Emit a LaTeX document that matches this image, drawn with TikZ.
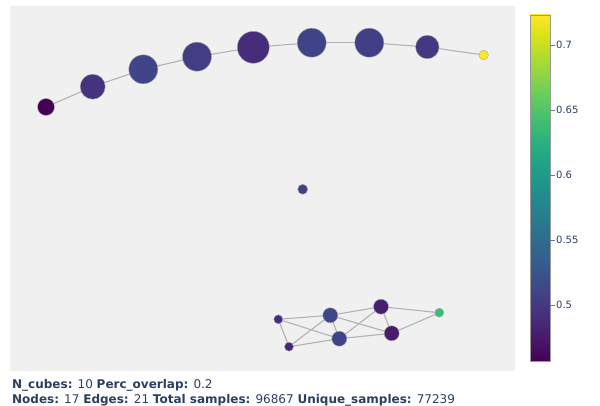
\documentclass[tikz,border=0pt]{standalone}
\usepackage{fontspec}
\setmainfont{DejaVu Sans}
\usetikzlibrary{backgrounds}
\definecolor{plotbg}{HTML}{F0F0F0}
\definecolor{edgec}{HTML}{B2B2B2}
\definecolor{txt}{HTML}{2A3F5F}
\definecolor{v0}{HTML}{440154}
\definecolor{v1}{HTML}{48186A}
\definecolor{v2}{HTML}{472D7B}
\definecolor{v3}{HTML}{424086}
\definecolor{v4}{HTML}{3B528B}
\definecolor{v5}{HTML}{33638D}
\definecolor{v6}{HTML}{2C728E}
\definecolor{v7}{HTML}{26828E}
\definecolor{v8}{HTML}{21918C}
\definecolor{v9}{HTML}{1FA088}
\definecolor{v10}{HTML}{28AE80}
\definecolor{v11}{HTML}{3FBC73}
\definecolor{v12}{HTML}{5EC962}
\definecolor{v13}{HTML}{84D44B}
\definecolor{v14}{HTML}{ADDC30}
\definecolor{v15}{HTML}{D8E219}
\definecolor{v16}{HTML}{FDE725}
\definecolor{cA}{HTML}{45337F}
\definecolor{cB}{HTML}{3F4588}
\definecolor{cC}{HTML}{433D85}
\definecolor{cD}{HTML}{472C7B}
\definecolor{cE}{HTML}{3F4488}
\definecolor{cF}{HTML}{414087}
\definecolor{cG}{HTML}{453781}
\definecolor{cM}{HTML}{40418A}
\definecolor{ka}{HTML}{472D7B}
\definecolor{kb}{HTML}{482576}
\definecolor{kc}{HTML}{3F4689}
\definecolor{kd}{HTML}{3F4588}
\definecolor{ke}{HTML}{481F70}
\definecolor{kf}{HTML}{481B6D}
\definecolor{kg}{HTML}{3FBC73}
\pgfdeclareverticalshading{viridis}{100bp}{color(0bp)=(v0); color(25bp)=(v0);
 color(28.125bp)=(v1); color(31.25bp)=(v2); color(34.375bp)=(v3); color(37.5bp)=(v4);
 color(40.625bp)=(v5); color(43.75bp)=(v6); color(46.875bp)=(v7); color(50bp)=(v8);
 color(53.125bp)=(v9); color(56.25bp)=(v10); color(59.375bp)=(v11); color(62.5bp)=(v12);
 color(65.625bp)=(v13); color(68.75bp)=(v14); color(71.875bp)=(v15); color(75bp)=(v16);
 color(100bp)=(v16)}
\begin{document}
\begin{tikzpicture}[x=1pt,y=-1pt,
  nd/.style={circle, inner sep=0pt, draw=gray!70, line width=0.4pt},
  edge/.style={draw=edgec, line width=1.1pt},
  foot/.style={anchor=base west, inner sep=0pt, text=txt, font=\fontsize{12}{14}\selectfont},
  tick/.style={draw=txt!70, line width=0.6pt},
  ticklab/.style={anchor=west, inner sep=1pt, text=txt, font=\fontsize{10}{12}\selectfont}]
\useasboundingbox (0,0) rectangle (600,406);
\begin{pgfonlayer}{background}
\fill[plotbg] (10,6) rectangle (515,371);
\end{pgfonlayer}
% top chain
\node[nd, minimum size=17pt, fill=v0] (n1) at (46,107) {};
\node[nd, minimum size=25pt, fill=cA] (n2) at (92.7,86.7) {};
\node[nd, minimum size=29pt, fill=cB] (n3) at (143.3,69.3) {};
\node[nd, minimum size=29pt, fill=cC] (n4) at (197,56.7) {};
\node[nd, minimum size=32pt, fill=cD] (n5) at (253.3,47.3) {};
\node[nd, minimum size=29pt, fill=cE] (n6) at (311.7,42.7) {};
\node[nd, minimum size=29pt, fill=cF] (n7) at (369.3,42.7) {};
\node[nd, minimum size=23.5pt, fill=cG] (n8) at (427.3,47) {};
\node[nd, minimum size=9.5pt, fill=v16] (n9) at (483.7,55) {};
% middle
\node[nd, minimum size=10pt, fill=cM] (m) at (302.7,189.3) {};
% cluster
\node[nd, minimum size=9pt, fill=ka] (a) at (278.3,319.3) {};
\node[nd, minimum size=9pt, fill=kb] (b) at (289,346.7) {};
\node[nd, minimum size=15pt, fill=kc] (c) at (330.3,315.3) {};
\node[nd, minimum size=15pt, fill=kd] (d) at (339.3,338.7) {};
\node[nd, minimum size=15pt, fill=ke] (e) at (381,306.7) {};
\node[nd, minimum size=15pt, fill=kf] (f) at (391.7,333.3) {};
\node[nd, minimum size=9pt, fill=kg] (g) at (439.3,312.7) {};
\begin{pgfonlayer}{background}
\foreach \p/\q in {n1/n2,n2/n3,n3/n4,n4/n5,n5/n6,n6/n7,n7/n8,n8/n9,
  a/b,a/c,a/d,b/c,b/d,c/d,c/e,c/f,d/e,d/f,e/f,e/g,f/g}
  \path[edge] (\p.center) -- (\q.center);
\end{pgfonlayer}
% colorbar
\node[draw=gray!80, line width=0.8pt, minimum width=20pt, minimum height=346pt, inner sep=0pt, shading=viridis] (cbar) at (540,188) {};
\foreach \yy/\lab in {45/0.7,110/0.65,175/0.6,240/0.55,305/0.5}{
  \coordinate (t\yy) at (cbar.east |- 0,\yy);
  \draw[tick] (t\yy) -- ++(4.5,0) node[ticklab] {\lab};
}
% footer
\node[foot] (f1) at (12,388) {\textbf{N\_cubes:} 10 \textbf{Perc\_overlap:} 0.2};
\node[foot] (f2) at (12,403.5) {\textbf{Nodes:} 17 \textbf{Edges:} 21 \textbf{Total samples:} 96867 \textbf{Unique\_samples:} 77239};
\end{tikzpicture}
\end{document}
